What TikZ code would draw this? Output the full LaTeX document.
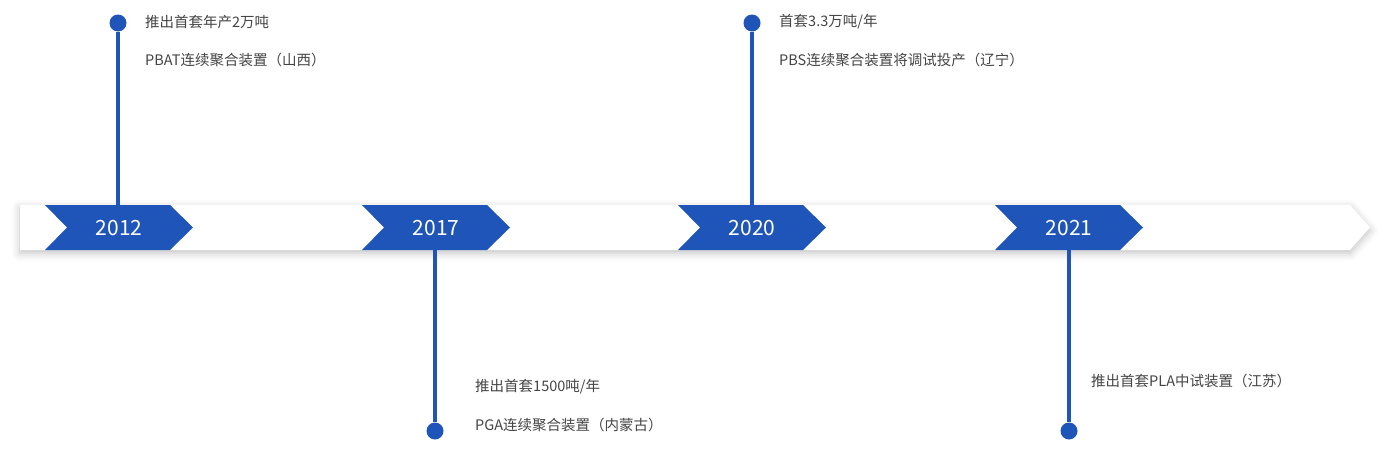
\documentclass[tikz,border=0pt]{standalone}
\usepackage{fontspec}
\setmainfont{Noto Sans CJK SC}
\usetikzlibrary{shadows.blur}
\definecolor{tblue}{HTML}{1F55B8}
\definecolor{ttext}{HTML}{444444}
\tikzset{
  chev/.style={fill=tblue},
  yr/.style={text=white,font=\fontsize{21}{24}\selectfont,inner sep=0},
  lbl/.style={text=ttext,font=\fontsize{14.5}{17}\selectfont,anchor=west,inner sep=0},
  stem/.style={draw=tblue,line width=3.5pt},
  dot/.style={circle,fill=tblue,minimum size=17pt,inner sep=0}
}
\begin{document}
\begin{tikzpicture}[x=1pt,y=-1pt]
\useasboundingbox (0,0) rectangle (1386,461);
\fill[white,blur shadow={shadow xshift=0pt,shadow yshift=-3pt,shadow blur radius=8pt,shadow opacity=25}]
  (20,205) -- (1350,205) -- (1370,227.5) -- (1350,250) -- (20,250) -- cycle;
\foreach \x/\y/\n in {45/2012/a,362/2017/b,678/2020/c,995/2021/d}{
  \fill[chev] (\x,205) -- (\x+125,205) -- (\x+148,227.5) -- (\x+125,250) -- (\x,250) -- (\x+22,227.5) -- cycle;
  \node[yr] (y\n) at (\x+74,228) {\y};
}
\coordinate (ta) at (118,205); \coordinate (tc) at (752,205);
\coordinate (bb) at (435,250); \coordinate (bd) at (1069,250);
\node[dot] (da) at (118,23) {};
\node[dot] (dc) at (752,23) {};
\node[dot] (db) at (435,431) {};
\node[dot] (dd) at (1069,431) {};
\draw[stem] (da) -- (ta);
\draw[stem] (dc) -- (tc);
\draw[stem] (bb) -- (db);
\draw[stem] (bd) -- (dd);
\node[lbl] (l1) at (145,22) {推出首套年产2万吨};
\node[lbl] (l2) at (145,60) {PBAT连续聚合装置（山西）};
\node[lbl] (l3) at (475,387) {推出首套1500吨/年};
\node[lbl] (l4) at (475,425) {PGA连续聚合装置（内蒙古）};
\node[lbl] (l5) at (779,22) {首套3.3万吨/年};
\node[lbl] (l6) at (779,60) {PBS连续聚合装置将调试投产（辽宁）};
\node[lbl] (l7) at (1091,381) {推出首套PLA中试装置（江苏）};
\end{tikzpicture}
\end{document}
